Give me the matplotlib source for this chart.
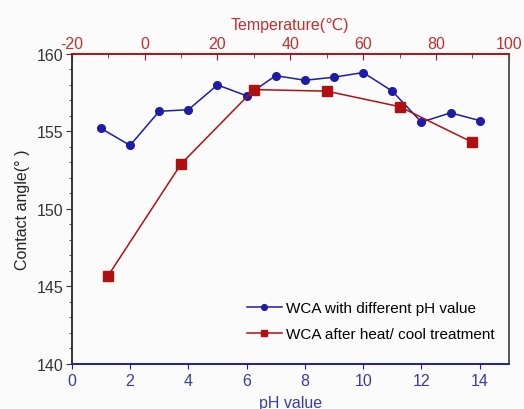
import matplotlib
matplotlib.use("Agg")
import matplotlib.pyplot as plt
from matplotlib.ticker import MultipleLocator

plt.rcParams["font.family"] = ["Liberation Sans", "DejaVu Sans"]
plt.rcParams["axes.unicode_minus"] = False

# WCA vs pH
ph = [1, 2, 3, 4, 5, 6, 7, 8, 9, 10, 11, 12, 13, 14]
wca_ph = [155.2, 154.1, 156.3, 156.4, 158.0, 157.3, 158.6, 158.3, 158.5,
          158.8, 157.6, 155.6, 156.2, 155.7]

# WCA after heat/cool treatment vs temperature
temp = [-10, 10, 30, 50, 70, 90]
wca_temp = [145.7, 152.9, 157.7, 157.6, 156.6, 154.3]

AZUL = "#1c1ca8"
VERM = "#b01010"
AZUL_TX = "#3a3aa8"
VERM_TX = "#c03030"

fig = plt.figure(figsize=(5.24, 4.10), dpi=100)
fig.patch.set_facecolor("#fbfbfb")
ax = fig.add_axes([0.137, 0.110, 0.834, 0.756])
ax.set_facecolor("#fbfbfb")
ax2 = ax.twiny()

l1, = ax.plot(ph, wca_ph, "-o", color=AZUL, lw=1.1, markersize=5.5,
              label="WCA with different pH value")
l2, = ax2.plot(temp, wca_temp, "-s", color=VERM, lw=1.1, markersize=6.5,
               label="WCA after heat/ cool treatment")

ax.set_xlim(0, 15)
ax2.set_xlim(-20, 100)
ax.set_ylim(140, 160)

ax.xaxis.set_major_locator(MultipleLocator(2))
ax.xaxis.set_minor_locator(MultipleLocator(1))
ax.yaxis.set_major_locator(MultipleLocator(5))
ax.yaxis.set_minor_locator(MultipleLocator(1))
ax2.xaxis.set_major_locator(MultipleLocator(20))
ax2.xaxis.set_minor_locator(MultipleLocator(10))

ax.tick_params(axis="x", which="both", colors=AZUL, labelcolor=AZUL_TX,
               labelsize=11.5, direction="out", pad=3)
ax.tick_params(axis="x", which="minor", length=0)
ax.tick_params(axis="y", which="major", direction="out", length=4,
               labelsize=11.5, colors="#333333", pad=2)
ax.tick_params(axis="y", which="minor", direction="out", length=2,
               colors="#333333")
ax2.tick_params(axis="x", which="major", direction="in", length=4,
                colors=VERM, labelcolor=VERM_TX, labelsize=11.5, pad=2)
ax2.tick_params(axis="x", which="minor", direction="in", length=3,
                colors=VERM)

for a in (ax, ax2):
    a.spines["bottom"].set_color(AZUL)
    a.spines["top"].set_color(VERM)
    a.spines["left"].set_color("#333333")
    a.spines["right"].set_color("#555555")
    for s in a.spines.values():
        s.set_linewidth(1.2)

ax.set_xlabel("pH value", color=AZUL_TX, fontsize=11.5, labelpad=5)
ax.set_ylabel("Contact angle(° )", color="#222222", fontsize=11.5, labelpad=5)
ax2.set_xlabel("Temperature(℃)", color=VERM_TX, fontsize=11.5, labelpad=5)

ax.legend(handles=[l1, l2], loc="lower right", bbox_to_anchor=(1.0, 0.03),
          frameon=False, fontsize=11, handlelength=2.3, handletextpad=0.3,
          labelspacing=0.75, markerscale=0.75)

fig.savefig("out.png", dpi=100, facecolor=fig.get_facecolor())
